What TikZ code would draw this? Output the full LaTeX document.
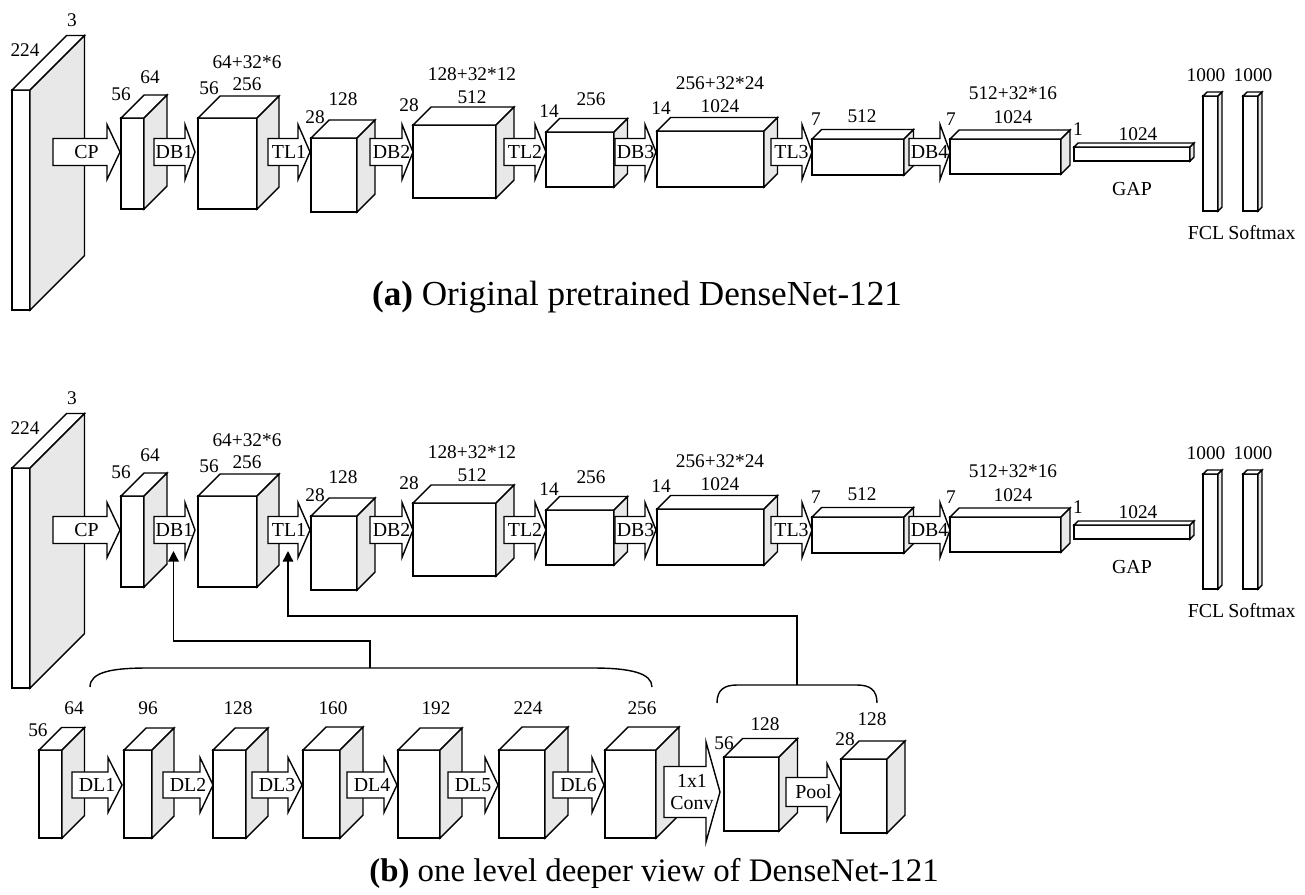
\documentclass[tikz,border=0pt]{standalone}
\usepackage{fontspec}
\setmainfont{Liberation Serif}
\usetikzlibrary{arrows.meta,calc}
\definecolor{sidegray}{HTML}{E8E8E8}
\tikzset{
  boxline/.style = {draw = black, line width = 0.8pt, line join = miter},
  numlab/.style = {inner sep = 0pt, font = \fontsize{11}{12}\selectfont},
  arrlab/.style = {inner sep = 0pt, font = \fontsize{11.3}{13}\selectfont, align = center},
  caplab/.style = {inner sep = 0pt, font = \fontsize{20}{24}\selectfont},
  conn/.style = {line width = 0.8pt, -{Triangle[width = 6pt, length = 6pt]}}
}
\newcommand{\blockbox}[5]{%
  \filldraw[boxline, fill = white] (#1,#2) rectangle (#3,#4);
  \filldraw[boxline, fill = white] (#1,#2) -- ++(#5,-#5) -- (#3+#5,#2-#5) -- (#3,#2) -- cycle;
  \filldraw[boxline, fill = sidegray] (#3,#2) -- (#3+#5,#2-#5) -- (#3+#5,#4-#5) -- (#3,#4) -- cycle;
}
\newcommand{\blockarrow}[8]{%
  \filldraw[boxline, fill = white] (#2,#5-#6) -- (#3,#5-#6) -- (#3,#5-#7) -- (#4,#5)
    -- (#3,#5+#7) -- (#3,#5+#6) -- (#2,#5+#6) -- cycle;
  \node[arrlab] (#1) at ({(#2+#4)/2},#5) {#8};
}
\begin{document}
\begin{tikzpicture}[x = 0.02cm, y = -0.02cm]
\useasboundingbox (0,0) rectangle (1305,894);
\foreach \row/\tag in {0/a, 378/b}{
\begin{scope}[shift = {(0,\row)}]
\blockbox{12}{90}{30}{310}{54.5}
\blockbox{121}{118}{144}{209}{23}
\blockbox{198}{118}{257}{209}{22}
\blockbox{311}{138}{357}{212}{18}
\blockbox{413}{125}{496}{198}{18}
\blockbox{546}{132}{614}{187}{13.5}
\blockbox{657}{131}{764}{187}{13.5}
\blockbox{812}{139}{904}{175}{9.5}
\blockbox{950}{139}{1061}{174}{9}
\blockbox{1074}{147}{1190}{161}{4}
\blockbox{1203}{96}{1218}{211}{4}
\blockbox{1243}{96}{1258}{211}{4}
\blockarrow{cp\tag}{53}{107}{120}{152}{13.5}{27.5}{CP}
\blockarrow{db1\tag}{154}{185}{195}{152}{13.5}{27.5}{DB1}
\blockarrow{tl1\tag}{268}{298}{310}{152}{13.5}{27.5}{TL1}
\blockarrow{db2\tag}{370}{402}{413}{152}{13.5}{27.5}{DB2}
\blockarrow{tl2\tag}{504}{535}{546}{152}{13.5}{27.5}{TL2}
\blockarrow{db3\tag}{615}{645}{656}{152}{13.5}{27.5}{DB3}
\blockarrow{tl3\tag}{771}{802}{812}{152}{13.5}{27.5}{TL3}
\blockarrow{db4\tag}{909}{940}{950}{152}{13.5}{27.5}{DB4}
\foreach \x/\y/\t [count = \i] in {72/20/3, 25/50/224, 121/94/56, 150/77/64,
    209/88/56, 247/84/256, 247/62/64+32*6, 315/117/28, 343/99/128,
    409/105/28, 472/97/512, 472/74/128+32*12, 549/111/14, 591/99/256,
    661/108/14, 720/106/1024, 720/83/256+32*24, 816/119/7, 862/116/512,
    951/119/7, 1013/117/1024, 1013/93/512+32*16, 1078/129/1, 1138/134/1024,
    1206/75/1000, 1253/75/1000}
  \node[numlab] (num\tag\i) at (\x,\y) {\t};
\node[arrlab] (gap\tag) at (1132,189) {GAP};
\node[arrlab] (fcl\tag) at (1206,233) {FCL};
\node[arrlab] (soft\tag) at (1262,233) {Softmax};
\end{scope}
}
\node[caplab] (capa) at (637,297) {\textbf{(a)} Original pretrained DenseNet-121};
\blockbox{39}{750}{62}{838}{22.5}
\blockbox{124}{750}{152}{838}{22}
\blockbox{213}{750}{246}{838}{22}
\blockbox{303}{750}{340}{838}{23}
\blockbox{398}{750}{440}{838}{22}
\blockbox{499}{750}{545}{838}{23}
\blockbox{605}{750}{656}{838}{23}
\blockbox{724}{757}{779}{831}{18.5}
\blockbox{841}{759}{887}{833}{18}
\blockarrow{dl1}{72}{108}{122}{785}{13}{27.5}{DL1}
\blockarrow{dl2}{163}{200}{213}{785}{13}{27.5}{DL2}
\blockarrow{dl3}{252}{288}{302}{785}{13}{27.5}{DL3}
\blockarrow{dl4}{347}{384}{397}{785}{13}{27.5}{DL4}
\blockarrow{dl5}{448}{485}{498}{785}{13}{27.5}{DL5}
\blockarrow{dl6}{553}{592}{604}{785}{13}{27.5}{DL6}
\blockarrow{conv}{664}{706}{720}{792}{25.5}{50}{1x1\\[-1pt]Conv}
\blockarrow{pool}{786}{827}{841}{792}{14.5}{28.5}{Pool}
\foreach \x/\y/\t [count = \i] in {38/730/56, 74/708/64, 148/708/96, 238/708/128,
    333/708/160, 436/708/192, 528/708/224, 642/708/256,
    724/743/56, 765/724/128, 845/739/28, 872/719/128}
  \node[numlab] (numc\i) at (\x,\y) {\t};
\draw[line width = 0.8pt] (90,687) .. controls (90,672) and (112,668) .. (147,668) -- (593,668)
  .. controls (630,668) and (652,673) .. (652,687);
\draw[line width = 0.8pt] (717,703) .. controls (717,690) and (724,685) .. (737,685) -- (857,685)
  .. controls (870,685) and (877,690) .. (877,703);
\coordinate (brace1) at (370,668);
\coordinate (brace2) at (797,685);
\coordinate (db1in) at ($(db1b)+(-1,21)$);
\coordinate (tl1in) at ($(tl1b)+(-1,21)$);
\draw[conn] (brace1) -- ++(0,-27) -| (db1in);
\draw[conn] (brace2) -- ++(0,-69) -| (tl1in);
\node[caplab, font = \fontsize{18.7}{22}\selectfont] (capb) at (654,873) {\textbf{(b)} one level deeper view of DenseNet-121};
\end{tikzpicture}
\end{document}
